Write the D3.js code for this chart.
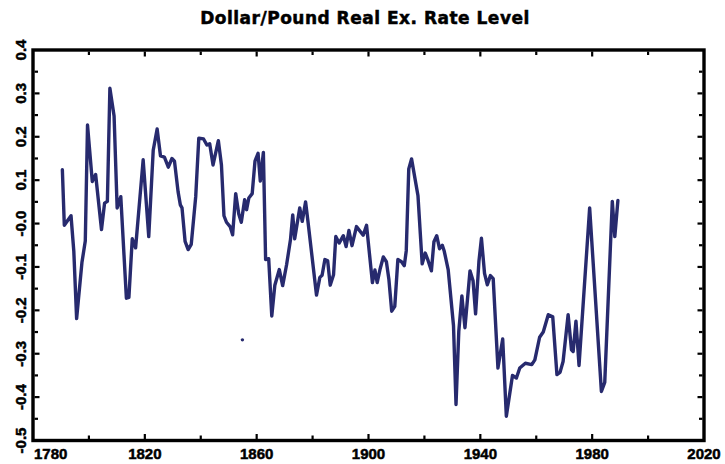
<!DOCTYPE html>
<html>
<head>
<meta charset="utf-8">
<script src="https://cdn.jsdelivr.net/npm/d3@7"></script>
<style>
  body { margin: 0; background: #fff; }
  text { font-family: "Liberation Sans", Arial, sans-serif; font-weight: bold; fill: #000; stroke: #000; stroke-width: 0.5; }
  .title { font-family: "DejaVu Sans", sans-serif; letter-spacing: 0.5px; }
  .frame { fill: none; stroke: #000; stroke-width: 3.4; }
  .tick { stroke: #000; stroke-width: 2.2; }
  .rateline { fill: none; stroke: #272a6e; stroke-width: 3.4; stroke-linejoin: round; stroke-linecap: round; }
</style>
</head>
<body>
<div id="chart"></div>
<script>
const svgWidth = 725;
const svgHeight = 464;
const plot = {left: 33, right: 704, top: 50, bottom: 440.5};

// year / real exchange rate (log deviation)
const years = [
  1790.5, 1791.2, 1793.6, 1794.6, 1795.6, 1797.5, 1798.7, 1799.5, 1801.2, 1802.4,
  1804.5, 1805.6, 1806.6, 1807.5, 1809.0, 1810.1, 1811.4, 1813.4, 1814.3, 1815.5,
  1816.7, 1819.4, 1821.4, 1823.0, 1824.4, 1825.6, 1827.0, 1828.4, 1829.7, 1830.6,
  1831.9, 1832.7, 1833.3, 1834.4, 1835.5, 1836.6, 1838.2, 1839.3, 1841.0, 1842.2,
  1843.2, 1844.4, 1846.3, 1847.4, 1848.3, 1849.2, 1850.5, 1851.4, 1852.5, 1853.6,
  1854.5, 1855.7, 1856.4, 1857.2, 1858.4, 1859.4, 1860.5, 1861.3, 1862.4, 1863.2,
  1864.3, 1865.4, 1866.5, 1868.1, 1869.3, 1870.7, 1872.1, 1872.9, 1873.6, 1875.4,
  1876.3, 1877.5, 1878.4, 1881.4, 1882.6, 1883.4, 1884.4, 1885.4, 1886.3, 1887.5,
  1888.3, 1889.5, 1891.0, 1892.0, 1893.0, 1894.1, 1895.7, 1898.1, 1899.3, 1901.4,
  1902.3, 1903.1, 1904.1, 1905.3, 1906.4, 1907.3, 1908.3, 1909.4, 1910.5, 1911.8,
  1912.8, 1913.5, 1914.4, 1915.4, 1917.7, 1919.2, 1920.3, 1921.3, 1922.5, 1923.4,
  1924.4, 1925.4, 1926.4, 1927.1, 1928.5, 1930.4, 1931.3, 1932.3, 1933.4, 1934.5,
  1936.3, 1937.4, 1938.3, 1939.5, 1940.4, 1941.5, 1942.5, 1943.6, 1944.6, 1946.3,
  1948.0, 1949.3, 1951.5, 1952.9, 1954.1, 1956.1, 1958.4, 1959.5, 1961.2, 1962.5,
  1964.3, 1965.9, 1967.4, 1968.5, 1969.6, 1971.4, 1972.6, 1973.2, 1974.2, 1975.3,
  1979.1, 1983.3, 1984.5, 1987.2, 1988.1, 1989.2
];
const rates = [
  0.124, -0.004, 0.018, -0.064, -0.219, -0.090, -0.040, 0.227, 0.097, 0.113,
  -0.014, 0.047, 0.051, 0.312, 0.248, 0.036, 0.062, -0.172, -0.170, -0.035,
  -0.056, 0.147, -0.030, 0.169, 0.218, 0.156, 0.153, 0.130, 0.150, 0.144,
  0.073, 0.043, 0.036, -0.041, -0.060, -0.048, 0.062, 0.197, 0.195, 0.181,
  0.184, 0.135, 0.191, 0.135, 0.018, 0.003, -0.007, -0.026, 0.069, 0.022,
  0.003, 0.055, 0.032, 0.059, 0.069, 0.144, 0.162, 0.098, 0.164, -0.083,
  -0.081, -0.213, -0.142, -0.106, -0.143, -0.095, -0.037, 0.020, -0.035, 0.036,
  0.005, 0.050, 0.002, -0.165, -0.124, -0.119, -0.083, -0.086, -0.142, -0.118,
  -0.030, -0.045, -0.028, -0.053, -0.016, -0.051, -0.007, -0.027, -0.004, -0.136,
  -0.107, -0.136, -0.106, -0.077, -0.088, -0.129, -0.202, -0.191, -0.083, -0.088,
  -0.097, -0.063, 0.126, 0.149, 0.064, -0.093, -0.068, -0.085, -0.109, -0.042,
  -0.028, -0.058, -0.050, -0.064, -0.106, -0.235, -0.417, -0.248, -0.167, -0.240,
  -0.109, -0.132, -0.208, -0.087, -0.034, -0.115, -0.141, -0.120, -0.127, -0.333,
  -0.266, -0.444, -0.350, -0.356, -0.333, -0.322, -0.325, -0.314, -0.262, -0.250,
  -0.210, -0.215, -0.348, -0.343, -0.318, -0.210, -0.291, -0.295, -0.225, -0.327,
  0.036, -0.387, -0.366, 0.051, -0.030, 0.053
];
// the lone dot below the line near 1855
const strayYears = [1854.9];
const strayRates = [-0.268];

const xTickLabels = [1780, 1820, 1860, 1900, 1940, 1980, 2020];
const yTickLabels = ["0.4", "0.3", "0.2", "0.1", "-0.0", "-0.1", "-0.2", "-0.3", "-0.4", "-0.5"];
const yTickValues = [0.4, 0.3, 0.2, 0.1, 0.0, -0.1, -0.2, -0.3, -0.4, -0.5];
const title = "Dollar/Pound Real Ex. Rate Level";

document.addEventListener("DOMContentLoaded", function(event){
  drawChart();
});

function drawChart(){
  const svg = d3.select("#chart")
    .append("svg")
    .attr("width", svgWidth)
    .attr("height", svgHeight);

  const xscale = d3.scaleLinear()
    .domain([1780, 2020])
    .range([plot.left, plot.right]);

  const yscale = d3.scaleLinear()
    .domain([-0.5, 0.4])
    .range([plot.bottom, plot.top]);

  //Frame
  svg.append("rect")
    .attr("class", "frame")
    .attr("x", plot.left)
    .attr("y", plot.top)
    .attr("width", plot.right - plot.left)
    .attr("height", plot.bottom - plot.top);

  //Inward ticks, minor every 20 years / 0.05
  const xticks = d3.range(1800, 2020, 20);
  const yticks = d3.range(-0.45, 0.4, 0.05);

  xticks.forEach(function(t){
    const len = (t - 1780) % 40 === 0 ? 5 : 3.5;
    [plot.top + 1.5, plot.bottom - 1.5].forEach(function(y0, k){
      svg.append("line")
        .attr("class", "tick")
        .attr("x1", xscale(t)).attr("x2", xscale(t))
        .attr("y1", y0).attr("y2", k === 0 ? y0 + len : y0 - len);
    });
  });

  yticks.forEach(function(t){
    const major = Math.abs(Math.round(t * 10) - t * 10) < 1e-6;
    const len = major ? 5 : 3.5;
    [plot.left + 1.5, plot.right - 1.5].forEach(function(x0, k){
      svg.append("line")
        .attr("class", "tick")
        .attr("x1", x0).attr("x2", k === 0 ? x0 + len : x0 - len)
        .attr("y1", yscale(t)).attr("y2", yscale(t));
    });
  });

  //Tick labels
  svg.selectAll(".xlab")
    .data(xTickLabels)
    .enter().append("text")
    .attr("class", "xlab")
    .attr("x", function(d, i){ return i === 0 ? plot.left + 1 : xscale(d); })
    .attr("y", 459)
    .attr("text-anchor", function(d, i){ return i === 0 ? "start" : "middle"; })
    .attr("font-size", 15)
    .text(function(d){ return d; });

  svg.selectAll(".ylab")
    .data(yTickLabels)
    .enter().append("text")
    .attr("class", "ylab")
    .attr("transform", function(d, i){
      return "translate(25.5," + yscale(yTickValues[i]) + ")rotate(-90)";
    })
    .attr("text-anchor", "middle")
    .attr("font-size", 15)
    .text(function(d){ return d; });

  //Title
  svg.append("text")
    .attr("class", "title")
    .attr("x", 365)
    .attr("y", 24)
    .attr("text-anchor", "middle")
    .attr("font-size", 17)
    .text(title);

  //Rate line
  const pts = years.map(function(y, i){ return {x: y, y: rates[i]}; });
  const rateline = d3.line()
    .x(function(d){ return xscale(d.x); })
    .y(function(d){ return yscale(d.y); });

  svg.append("path")
    .datum(pts)
    .attr("class", "rateline")
    .attr("d", rateline);

  svg.selectAll(".stray")
    .data(strayYears)
    .enter().append("circle")
    .attr("class", "stray")
    .attr("cx", function(d){ return xscale(d); })
    .attr("cy", function(d, i){ return yscale(strayRates[i]); })
    .attr("r", 1.7)
    .attr("fill", "#272a6e");
}
</script>
</body>
</html>
